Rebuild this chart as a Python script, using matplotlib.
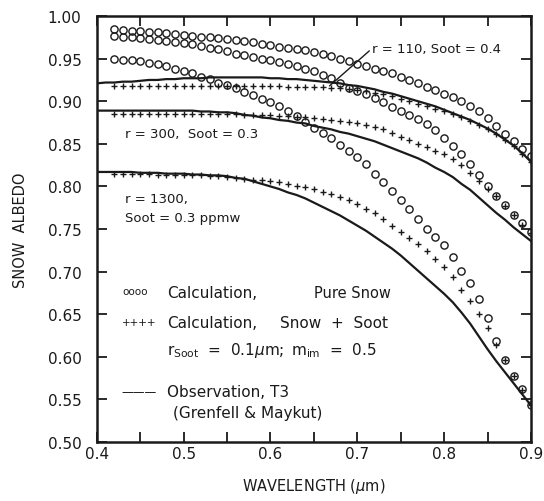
import matplotlib
matplotlib.use("Agg")
import matplotlib.pyplot as plt
from matplotlib.ticker import MultipleLocator, FormatStrFormatter

plt.rcParams['font.family'] = ['DejaVu Sans']
plt.rcParams['mathtext.fontset'] = 'dejavusans'

# wavelength grids (micrometres)
wl_calc = [0.42, 0.43, 0.44, 0.45, 0.46, 0.47, 0.48, 0.49, 0.50, 0.51,
           0.52, 0.53, 0.54, 0.55, 0.56, 0.57, 0.58, 0.59, 0.60, 0.61,
           0.62, 0.63, 0.64, 0.65, 0.66, 0.67, 0.68, 0.69, 0.70, 0.71,
           0.72, 0.73, 0.74, 0.75, 0.76, 0.77, 0.78, 0.79, 0.80, 0.81,
           0.82, 0.83, 0.84, 0.85, 0.86, 0.87, 0.88, 0.89, 0.90]
wl_obs = [0.40, 0.41] + wl_calc

# Calculation, pure snow (circles)
pure_r110 = [0.985, 0.984, 0.983, 0.982, 0.981, 0.981, 0.980, 0.979, 0.978, 0.977,
             0.976, 0.975, 0.974, 0.973, 0.972, 0.971, 0.969, 0.967, 0.966, 0.964,
             0.963, 0.961, 0.960, 0.958, 0.956, 0.953, 0.950, 0.947, 0.944, 0.941,
             0.938, 0.936, 0.933, 0.929, 0.925, 0.921, 0.917, 0.913, 0.909, 0.905,
             0.900, 0.895, 0.888, 0.880, 0.871, 0.862, 0.853, 0.844, 0.836]
pure_r300 = [0.977, 0.976, 0.975, 0.974, 0.973, 0.972, 0.971, 0.969, 0.968, 0.967,
             0.965, 0.963, 0.961, 0.959, 0.956, 0.954, 0.952, 0.950, 0.948, 0.946,
             0.944, 0.941, 0.938, 0.935, 0.931, 0.927, 0.921, 0.916, 0.912, 0.908,
             0.904, 0.899, 0.893, 0.889, 0.884, 0.879, 0.873, 0.866, 0.857, 0.848,
             0.838, 0.826, 0.813, 0.800, 0.789, 0.778, 0.767, 0.757, 0.746]
pure_r1300 = [0.950, 0.949, 0.948, 0.947, 0.945, 0.944, 0.941, 0.938, 0.935, 0.933,
              0.929, 0.926, 0.922, 0.919, 0.915, 0.911, 0.907, 0.903, 0.899, 0.894,
              0.889, 0.883, 0.876, 0.869, 0.863, 0.857, 0.849, 0.842, 0.835, 0.826,
              0.815, 0.805, 0.795, 0.784, 0.773, 0.762, 0.750, 0.741, 0.731, 0.717,
              0.701, 0.687, 0.668, 0.646, 0.618, 0.596, 0.578, 0.562, 0.543]

# Calculation, snow + soot (crosses)
soot_r110 = [0.918, 0.918, 0.918, 0.918, 0.918, 0.918, 0.918, 0.918, 0.918, 0.918,
             0.918, 0.918, 0.918, 0.918, 0.918, 0.918, 0.918, 0.918, 0.918, 0.918,
             0.917, 0.917, 0.917, 0.917, 0.917, 0.916, 0.915, 0.914, 0.913, 0.912,
             0.910, 0.908, 0.906, 0.903, 0.900, 0.897, 0.894, 0.891, 0.888, 0.885,
             0.881, 0.877, 0.872, 0.867, 0.861, 0.854, 0.847, 0.838, 0.829]
soot_r300 = [0.885, 0.885, 0.885, 0.885, 0.885, 0.885, 0.885, 0.885, 0.885, 0.885,
             0.885, 0.885, 0.885, 0.885, 0.885, 0.884, 0.884, 0.884, 0.884, 0.883,
             0.883, 0.882, 0.881, 0.880, 0.879, 0.878, 0.877, 0.876, 0.874, 0.872,
             0.870, 0.867, 0.863, 0.858, 0.854, 0.850, 0.846, 0.842, 0.838, 0.832,
             0.825, 0.816, 0.806, 0.797, 0.789, 0.777, 0.766, 0.755, 0.745]
soot_r1300 = [0.815, 0.815, 0.815, 0.815, 0.815, 0.814, 0.814, 0.814, 0.813, 0.813,
              0.813, 0.812, 0.812, 0.811, 0.810, 0.809, 0.808, 0.807, 0.806, 0.805,
              0.803, 0.801, 0.799, 0.797, 0.794, 0.791, 0.788, 0.784, 0.779, 0.774,
              0.769, 0.762, 0.754, 0.747, 0.740, 0.732, 0.724, 0.715, 0.706, 0.694,
              0.679, 0.666, 0.650, 0.634, 0.614, 0.596, 0.578, 0.561, 0.543]

# Observation, T3 (Grenfell & Maykut) (solid lines)
obs_r110 = [0.921, 0.922, 0.922, 0.923, 0.923, 0.924, 0.925, 0.925, 0.926, 0.926,
            0.927, 0.927, 0.927, 0.928, 0.928, 0.928, 0.928, 0.928, 0.928, 0.928,
            0.927, 0.927, 0.926, 0.926, 0.925, 0.924, 0.923, 0.922, 0.921, 0.919,
            0.918, 0.916, 0.914, 0.911, 0.909, 0.906, 0.903, 0.900, 0.897, 0.894,
            0.890, 0.886, 0.882, 0.878, 0.873, 0.868, 0.862, 0.855, 0.848, 0.839,
            0.829]
obs_r300 = [0.889, 0.889, 0.889, 0.889, 0.889, 0.889, 0.889, 0.889, 0.889, 0.889,
            0.889, 0.889, 0.888, 0.888, 0.887, 0.887, 0.886, 0.884, 0.883, 0.881,
            0.880, 0.878, 0.877, 0.875, 0.874, 0.871, 0.869, 0.867, 0.864, 0.862,
            0.859, 0.856, 0.853, 0.849, 0.845, 0.841, 0.837, 0.833, 0.828, 0.822,
            0.817, 0.811, 0.803, 0.796, 0.787, 0.778, 0.769, 0.761, 0.752, 0.744,
            0.736]
obs_r1300 = [0.817, 0.817, 0.817, 0.817, 0.817, 0.816, 0.816, 0.816, 0.815, 0.815,
             0.815, 0.814, 0.814, 0.813, 0.813, 0.812, 0.810, 0.809, 0.806, 0.803,
             0.800, 0.797, 0.793, 0.790, 0.786, 0.781, 0.776, 0.771, 0.766, 0.760,
             0.754, 0.748, 0.741, 0.734, 0.727, 0.719, 0.710, 0.701, 0.692, 0.683,
             0.674, 0.664, 0.652, 0.639, 0.624, 0.609, 0.595, 0.582, 0.569, 0.556,
             0.543]

INK = '#1a1a1a'

fig = plt.figure(figsize=(5.44, 5.02), dpi=100)
ax = fig.add_axes([0.178, 0.1175, 0.798, 0.8485])

for ys in (obs_r110, obs_r300, obs_r1300):
    ax.plot(wl_obs, ys, color=INK, lw=1.6, zorder=2)
for ys in (pure_r110, pure_r300, pure_r1300):
    ax.plot(wl_calc, ys, linestyle='none', marker='o', ms=5.2, mfc='none',
            mec=INK, mew=1.0, zorder=3)
for ys in (soot_r110, soot_r300, soot_r1300):
    ax.plot(wl_calc, ys, linestyle='none', marker='+', ms=5.0,
            mec=INK, mew=1.0, zorder=3)

ax.set_xlim(0.4, 0.9)
ax.set_ylim(0.5, 1.0)
ax.xaxis.set_major_locator(MultipleLocator(0.1))
ax.xaxis.set_minor_locator(MultipleLocator(0.05))
ax.yaxis.set_major_locator(MultipleLocator(0.05))
ax.xaxis.set_major_formatter(FormatStrFormatter('%.1f'))
ax.yaxis.set_major_formatter(FormatStrFormatter('%.2f'))
ax.tick_params(which='both', direction='in', top=True, right=True,
               length=7, width=1.3, color=INK, labelcolor=INK, labelsize=11)
ax.tick_params(axis='y', pad=11)
ax.tick_params(axis='x', pad=3)
for s in ax.spines.values():
    s.set_linewidth(1.8)
    s.set_color(INK)

ax.set_xlabel('WAVELENGTH ($\\mu$m)', fontsize=10.5, color=INK, labelpad=11)
ax.set_ylabel('SNOW  ALBEDO', fontsize=10.5, color=INK, labelpad=14)

fs = 9.5
ax.annotate('r = 110, Soot = 0.4', xy=(0.668, 0.918), xytext=(0.717, 0.962),
            fontsize=fs, color=INK, va='center', ha='left',
            arrowprops=dict(arrowstyle='-', color=INK, lw=1.0,
                            shrinkA=0, shrinkB=0, relpos=(0, 0.5)))
ax.text(0.432, 0.862, 'r = 300,  Soot = 0.3', fontsize=fs, color=INK, va='center')
ax.text(0.432, 0.786, 'r = 1300,', fontsize=fs, color=INK, va='center')
ax.text(0.432, 0.763, 'Soot = 0.3 ppmw', fontsize=fs, color=INK, va='center')

lf = 11
ax.text(0.429, 0.677, 'oooo', fontsize=7.5, color=INK, va='center')
ax.text(0.481, 0.676, 'Calculation,', fontsize=lf, color=INK, va='center')
ax.text(0.650, 0.676, 'Pure Snow', fontsize=10.5, color=INK, va='center')
ax.text(0.429, 0.641, '++++', fontsize=7.5, color=INK, va='center')
ax.text(0.481, 0.640, 'Calculation,', fontsize=lf, color=INK, va='center')
ax.text(0.611, 0.640, 'Snow  +  Soot', fontsize=lf, color=INK, va='center')
ax.text(0.481, 0.609, 'r$_{\\rm Soot}$  =  0.1$\\mu$m;', fontsize=lf, color=INK, va='center')
ax.text(0.624, 0.609, 'm$_{\\rm im}$  =  0.5', fontsize=lf, color=INK, va='center')
ax.text(0.428, 0.559, '\u2014\u2014\u2014', fontsize=8.5, color=INK, va='center')
ax.text(0.481, 0.559, 'Observation, T3', fontsize=lf, color=INK, va='center')
ax.text(0.488, 0.535, '(Grenfell & Maykut)', fontsize=lf, color=INK, va='center')

fig.savefig('out.png', dpi=100, facecolor='white')
